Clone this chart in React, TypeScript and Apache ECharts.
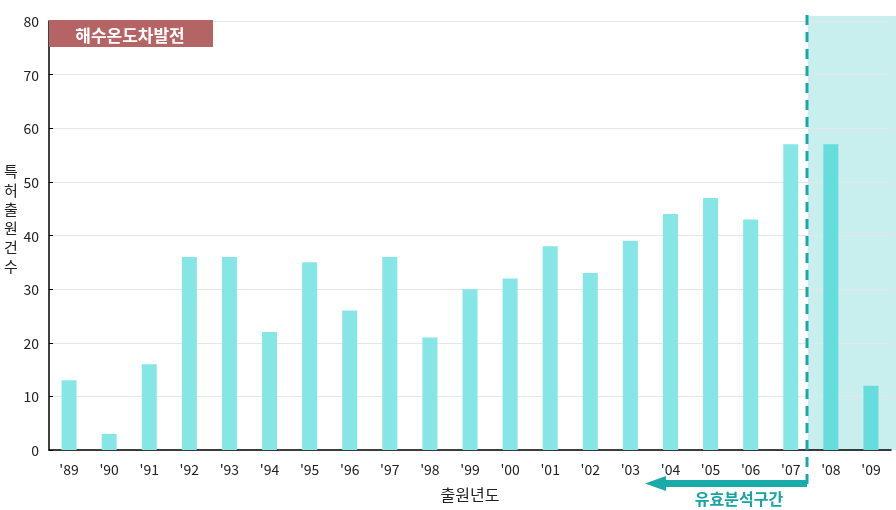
import React, { useEffect, useRef } from "react";
import * as echarts from "echarts";

const categories = ["'89", "'90", "'91", "'92", "'93", "'94", "'95", "'96", "'97", "'98", "'99", "'00", "'01", "'02", "'03", "'04", "'05", "'06", "'07", "'08", "'09"];
const counts = [13, 3, 16, 36, 36, 22, 35, 26, 36, 21, 30, 32, 38, 33, 39, 44, 47, 43, 57, 57, 12];
const highlighted = ["'08", "'09"];
const yTicks = { min: 0, max: 80, interval: 10 };

const FONT = "'Noto Sans CJK KR', 'DejaVu Sans', sans-serif";

export default function App() {
  const ref = useRef<HTMLDivElement>(null);
  useEffect(() => {
    if (!ref.current) return;
    const chart = echarts.init(ref.current, null, { renderer: "svg" });
    chart.setOption({
      animation: false,
      textStyle: { fontFamily: FONT },
      grid: { left: 49, right: 5, top: 21, bottom: 60, containLabel: false },
      xAxis: {
        type: "category",
        data: categories,
        axisLine: { lineStyle: { color: "#000", width: 1.5 } },
        axisTick: { inside: true, length: 5, lineStyle: { color: "#000" } },
        axisLabel: { color: "#222", fontSize: 14, margin: 12, fontFamily: FONT },
        name: "출원년도",
        nameLocation: "middle",
        nameGap: 36,
        nameTextStyle: { color: "#222", fontSize: 16, fontFamily: FONT },
      },
      yAxis: {
        type: "value",
        min: yTicks.min,
        max: yTicks.max,
        interval: yTicks.interval,
        axisLine: { show: true, lineStyle: { color: "#000", width: 1.5 } },
        axisTick: { show: true, inside: true, length: 4, lineStyle: { color: "#000" } },
        axisLabel: { color: "#222", fontSize: 14, margin: 10, fontFamily: FONT },
        splitLine: { lineStyle: { color: "#e6e6e6" } },
      },
      graphic: [
        { type: "rect", z: -10, shape: { x: 808, y: 16, width: 88, height: 434 }, style: { fill: "#c9eeee" } },
        { type: "line", z: 50, shape: { x1: 807, y1: 15, x2: 807, y2: 489 }, style: { stroke: "#1aa7a7", lineWidth: 3, lineDash: [10, 7] } },
        { type: "rect", z: 50, shape: { x: 49, y: 20, width: 164, height: 27 }, style: { fill: "#b46464" } },
        { type: "text", z: 51, x: 130, y: 34, style: { text: "해수온도차발전", fill: "#fff", font: `bold 17px ${FONT}`, align: "center", verticalAlign: "middle" } },
        { type: "rect", z: 50, shape: { x: 664, y: 480, width: 143, height: 7 }, style: { fill: "#19aaaa" } },
        { type: "polygon", z: 50, shape: { points: [[645, 483.5], [666, 476], [666, 491]] }, style: { fill: "#19aaaa" } },
        { type: "text", z: 51, x: 739, y: 498, style: { text: "유효분석구간", fill: "#17a3a3", font: `bold 16px ${FONT}`, align: "center", verticalAlign: "middle", lineHeight: 16 } },
        { type: "group", z: 51, left: 4, top: 163, children: "특허출원건수".split("").map((ch, i) => ({ type: "text", x: 0, y: i * 19, style: { text: ch, fill: "#222", font: `15px ${FONT}` } })) },
      ],
      series: [
        {
          type: "bar",
          barWidth: 15,
          data: counts.map((v, i) => ({
            value: v,
            itemStyle: { color: highlighted.includes(categories[i]) ? "#66dcdc" : "#86e6e6" },
          })),
        },
      ],
    });
    return () => chart.dispose();
  }, []);
  return <div ref={ref} style={{ position: "fixed", left: 0, top: 0, width: 896, height: 510 }} />;
}
